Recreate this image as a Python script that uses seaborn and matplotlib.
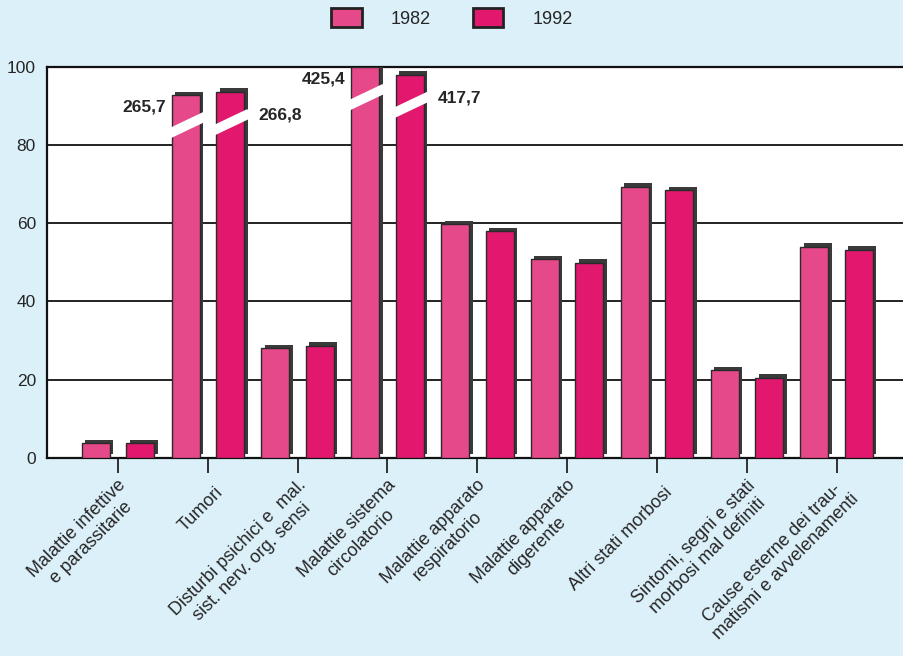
import pandas as pd
import matplotlib.pyplot as plt
import matplotlib.transforms as mtransforms
from matplotlib.patches import Patch
import seaborn as sns

# categorie (etichette asse x)
categories = [
    "Malattie infettive\ne parassitarie",
    "Tumori",
    "Disturbi psichici e  mal.\nsist. nerv. org. sensi",
    "Malattie sistema\ncircolatorio",
    "Malattie apparato\nrespiratorio",
    "Malattie apparato\ndigerente",
    "Altri stati morbosi",
    "Sintomi, segni e stati\nmorbosi mal definiti",
    "Cause esterne dei trau-\nmatismi e avvelenamenti",
]
years = ["1982", "1992"]

# altezze disegnate (le barre interrotte sono tagliate sotto 100)
h1982 = [3.8, 92.8, 28.0, 100.0, 59.8, 50.8, 69.3, 22.4, 54.0]
h1992 = [3.8, 93.6, 28.7, 98.0, 58.0, 49.9, 68.5, 20.5, 53.2]

# valori reali delle barre interrotte (indice categoria -> valore)
broken_1982 = {1: "265,7", 3: "425,4"}
broken_1992 = {1: "266,8", 3: "417,7"}

colors = ["#e5498a", "#e2186f"]
bg = "#dcf0f9"

df = pd.DataFrame({
    "Causa": categories * 2,
    "Anno": [years[0]] * len(categories) + [years[1]] * len(categories),
    "Valore": h1982 + h1992,
})

sns.set_theme(style="white")
plt.rcParams["font.family"] = ["Liberation Sans", "DejaVu Sans"]

fig = plt.figure(figsize=(9.04, 6.56), dpi=100, facecolor=bg)
ax = fig.add_axes([0.052, 0.302, 0.959, 0.596])
ax.set_facecolor("white")

# ombra scura (effetto 3D), spostata in alto a destra
sns.barplot(data=df, x="Causa", y="Valore", hue="Anno", palette=["#3a3a3a", "#3a3a3a"],
            saturation=1, width=0.99, gap=0.37, dodge=True, errorbar=None,
            legend=False, ax=ax, linewidth=0, zorder=3)
shadow = list(ax.patches)
shift = mtransforms.ScaledTranslation(2.5 / 72, 2.5 / 72, fig.dpi_scale_trans)
for p in shadow:
    p.set_transform(ax.transData + shift)

sns.barplot(data=df, x="Causa", y="Valore", hue="Anno", palette=colors,
            saturation=1, width=0.99, gap=0.37, dodge=True, errorbar=None,
            legend=False, ax=ax, edgecolor="#2a2a2a", linewidth=1.0, zorder=4)
bars = [p for p in ax.patches if p not in shadow]
n = len(categories)
bars1982 = bars[:n]
bars1992 = bars[n:]

# interruzioni e valori reali
for bar_list, broken, hvals, side in [(bars1982, broken_1982, h1982, "left"),
                                      (bars1992, broken_1992, h1992, "right")]:
    for i, txt in broken.items():
        b = bar_list[i]
        x0, w = b.get_x(), b.get_width()
        ys = hvals[i] - 8
        ax.plot([x0 - 0.04, x0 + w + 0.06], [ys - 2, ys + 2.5], color="white",
                lw=7, solid_capstyle="butt", zorder=6)
        if side == "left":
            ax.text(x0 - 0.06, hvals[i] - 3, txt, ha="right", va="center",
                    fontsize=12.5, fontweight="bold", zorder=7)
        else:
            ax.text(x0 + w + 0.16, hvals[i] - 6, txt, ha="left", va="center",
                    fontsize=12.5, fontweight="bold", zorder=7)

ax.set_xlim(-0.79, 8.86)
ax.set_ylim(0, 100)
ax.set_yticks([0, 20, 40, 60, 80, 100])
for y in [20, 40, 60, 80]:
    ax.axhline(y, color="#111111", lw=1.3, zorder=1)

for s in ["left", "top", "bottom"]:
    ax.spines[s].set_color("#111111")
    ax.spines[s].set_linewidth(1.6)
ax.spines["right"].set_visible(False)

ax.set_xlabel("")
ax.set_ylabel("")
ax.tick_params(axis="y", length=0, pad=8, labelsize=12.5)
ax.tick_params(axis="x", length=11, width=1.2, color="#111111", direction="out",
               bottom=True, pad=2)
ax.set_xticks(range(n))
ax.set_xticklabels(categories, rotation=45, ha="right", va="center",
                   rotation_mode="anchor", fontsize=13, multialignment="center")
for lbl in ax.get_xticklabels():
    lbl.set_transform(lbl.get_transform() + mtransforms.ScaledTranslation(9 / 72, -10 / 72, fig.dpi_scale_trans))

handles = [Patch(facecolor=colors[0], edgecolor="#222222", linewidth=2),
           Patch(facecolor=colors[1], edgecolor="#222222", linewidth=2)]
fig.legend(handles, years, loc="upper center", bbox_to_anchor=(0.5, 1.012), ncol=2,
           frameon=False, fontsize=13, handlelength=1.7, handleheight=1.2,
           columnspacing=2.3, handletextpad=1.6)

fig.savefig("out.png", dpi=100, facecolor=bg)
